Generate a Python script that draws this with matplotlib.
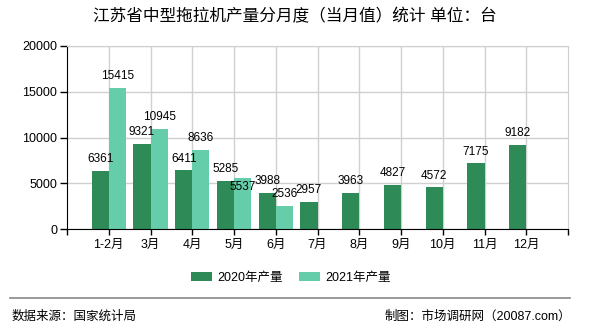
import numpy as np
import matplotlib.pyplot as plt
from matplotlib.lines import Line2D

plt.rcParams['font.family'] = ['Liberation Sans', 'Noto Sans CJK SC', 'DejaVu Sans']

months = ['1-2月', '3月', '4月', '5月', '6月', '7月', '8月', '9月', '10月', '11月', '12月']
output_2020 = [6361, 9321, 6411, 5285, 3988, 2957, 3963, 4827, 4572, 7175, 9182]
output_2021 = [15415, 10945, 8636, 5537, 2536]

dark = '#2e8b57'
light = '#66cdaa'

fig = plt.figure(figsize=(5.9, 3.3), dpi=100)
ax = fig.add_axes([67 / 590, 1 - 229 / 330, 501 / 590, 183 / 330])

x = np.arange(len(months))
w = 0.41
ax.bar(x - w / 2, output_2020, width=w, color=dark, zorder=2, label='2020年产量')
x21 = x[:len(output_2021)]
ax.bar(x21 + w / 2, output_2021, width=w, color=light, zorder=2, label='2021年产量')

num_font = dict(fontsize=8.5, ha='center')
for xi, v in zip(x, output_2020):
    ax.annotate(str(v), (xi - w / 2, v), xytext=(0, 4), textcoords='offset points',
                va='bottom', **num_font)
for xi, v in zip(x21, output_2021):
    if v == 5537:
        # sits under the neighbouring 2020 label to avoid overlap
        ax.annotate(str(v), (xi + w / 2, v), xytext=(0, -2), textcoords='offset points',
                    va='top', **num_font)
    else:
        ax.annotate(str(v), (xi + w / 2, v), xytext=(0, 4), textcoords='offset points',
                    va='bottom', **num_font)

ax.set_xlim(-1, 11)
ax.set_ylim(0, 20000)
ax.set_yticks(range(0, 20001, 5000))
ax.set_xticks(x)
ax.set_xticklabels(months, fontsize=9)
ax.tick_params(axis='y', labelsize=9, length=5, width=1, pad=2)
ax.tick_params(axis='x', length=4, width=1, pad=3)
ax.set_xticks([-1, 11], minor=True)
ax.tick_params(axis='x', which='minor', length=4, width=1)

ax.grid(True, color='#d0d0d0', linewidth=1, zorder=0)
for s in ['top', 'right']:
    ax.spines[s].set_color('#d0d0d0')
for s in ['left', 'bottom']:
    ax.spines[s].set_color('black')

fig.text(295 / 590, 1 - 16 / 330, '江苏省中型拖拉机产量分月度（当月值）统计 单位：台',
         ha='center', va='center', fontsize=12)

fig.legend(loc='center', bbox_to_anchor=(291 / 590, 1 - 278 / 330), ncol=2, frameon=False,
           fontsize=9, handlelength=1.7, handleheight=0.7, columnspacing=1.3, handletextpad=0.4)

fig.add_artist(Line2D([10 / 590, 570 / 590], [1 - 298 / 330, 1 - 298 / 330],
                      color='#888888', linewidth=1.2))
fig.text(12 / 590, 1 - 317 / 330, '数据来源：国家统计局', ha='left', va='center', fontsize=9)
fig.text(571 / 590, 1 - 317 / 330, '制图：市场调研网（20087.com）', ha='right', va='center', fontsize=9)

fig.savefig('out.png', dpi=100)
